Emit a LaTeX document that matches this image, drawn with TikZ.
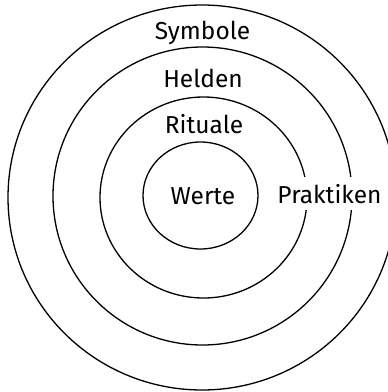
\documentclass[tikz,border=0pt]{standalone}
\usepackage{fontspec}
\setmainfont{Fira Sans}
\begin{document}
\begin{tikzpicture}[x=1pt,y=-1pt,
  ring/.style={line width=1.3pt},
  lbl/.style={font=\fontsize{24.5}{28}\selectfont, anchor=base, inner sep=1pt}]
\useasboundingbox (0,0) rectangle (388,392);
\clip (0,0) rectangle (388,392);
\draw[ring] (202,197.5) ellipse [x radius=194, y radius=192.5];
\draw[ring] (202.5,196) ellipse [x radius=149.5, y radius=149];
\draw[ring] (203.5,197.5) ellipse [x radius=103.5, y radius=100.5];
\draw[ring] (200.5,195.5) ellipse [x radius=57.5, y radius=53.5];
\node[lbl] (symbole) at (202.5,39) {Symbole};
\node[lbl] (helden) at (203,87) {Helden};
\node[lbl] (rituale) at (204,133) {Rituale};
\node[lbl] (werte) at (203,204) {Werte};
\node[lbl, fill=white, inner xsep=2pt, inner ysep=7pt] (praktiken) at (329.5,203) {Praktiken};
\end{tikzpicture}
\end{document}
